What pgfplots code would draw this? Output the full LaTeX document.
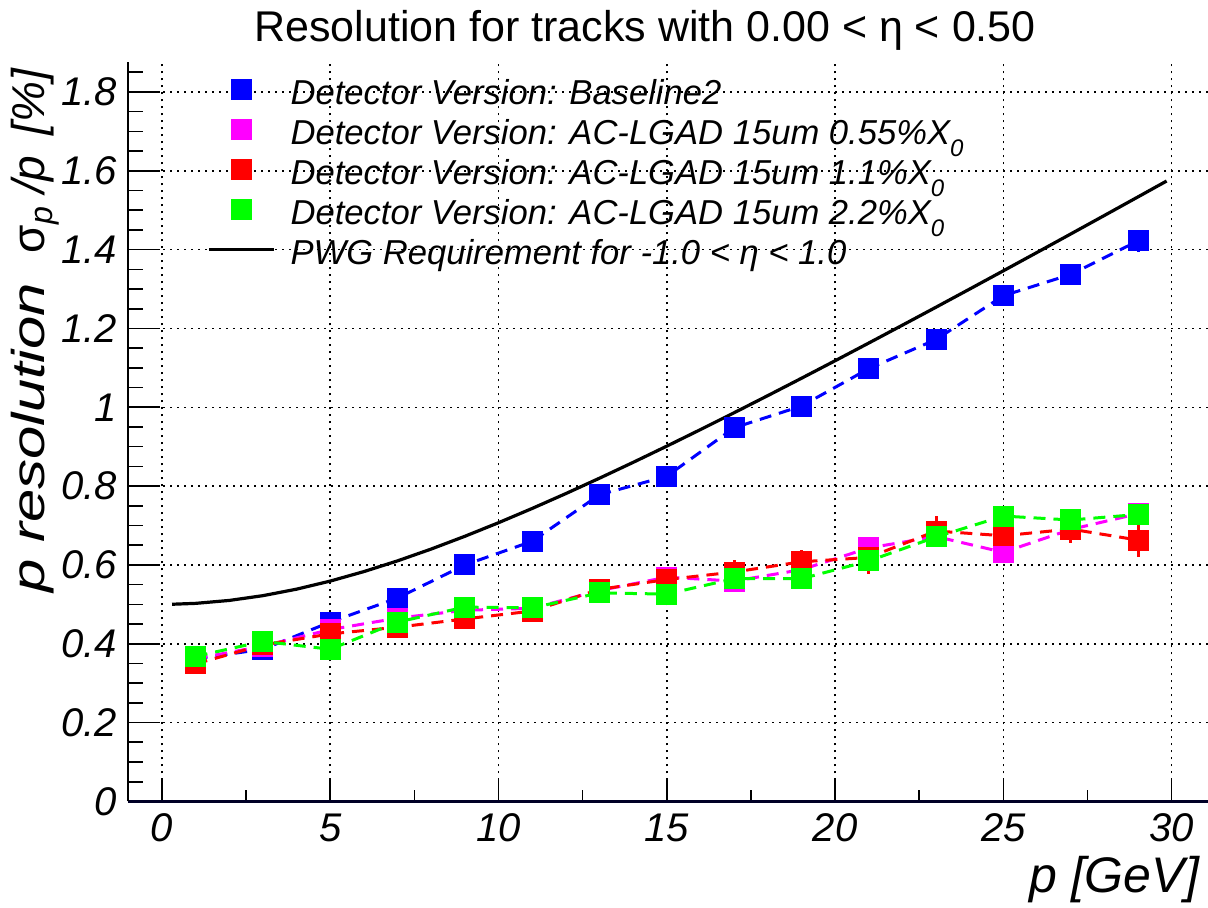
\documentclass[border=0pt]{standalone}
\usepackage{fontspec}
\setmainfont{Liberation Sans}
\usepackage{pgfplots}
\pgfplotsset{compat=1.18}

\definecolor{rblue}{RGB}{0,0,255}
\definecolor{rmag}{RGB}{255,0,255}
\definecolor{rred}{RGB}{255,0,0}
\definecolor{rgreen}{RGB}{0,255,0}

\newcommand{\xo}{X\raisebox{-6pt}{\fontsize{12}{12}\selectfont 0}}

\pgfplotsset{
  lineleg/.style={legend image code/.code={\draw[##1] (0pt,0.35em) -- (32.5pt,0.35em);}},
  sqleg/.style={legend image code/.code={\draw[##1, solid, only marks] plot coordinates {(16.25pt,0.35em)};}},
  rootser/.style={#1, line width=1.5pt, dash pattern=on 6pt off 4pt, mark=square*, mark size=4.5pt,
    mark options={solid, draw=#1, fill=#1}, sqleg,
    error bars/.cd, y dir=both, y explicit, error mark=none},
}

\begin{document}
\begin{tikzpicture}
\begin{axis}[
  scale only axis,
  width=539.85pt, height=369.7pt,
  xmin=-1, xmax=31.08, ymin=0, ymax=1.876,
  axis x line*=bottom, axis y line*=left,
  x axis line style={line width=1.3pt, color=black!85!blue},
  y axis line style={line width=1pt},
  xtick={0,5,10,15,20,25,30},
  minor xtick={2.5,7.5,12.5,17.5,22.5,27.5},
  ytick={0,0.2,0.4,0.6,0.8,1,1.2,1.4,1.6,1.8},
  minor ytick={0.05,0.1,0.15,0.25,0.3,0.35,0.45,0.5,0.55,0.65,0.7,0.75,0.85,0.9,0.95,1.05,1.1,1.15,1.25,1.3,1.35,1.45,1.5,1.55,1.65,1.7,1.75,1.85},
  tick align=inside,
  major tick length=11pt, minor tick length=5.5pt,
  y tick style={/pgfplots/major tick length=16pt, /pgfplots/minor tick length=7.5pt},
  tick style={line width=0.8pt, black},
  grid=major,
  major grid style={black, line width=0.75pt, dash pattern=on 1pt off 2.5pt},
  /pgf/number format/assume math mode=true,
  ticklabel style={font=\fontsize{20}{20}\selectfont\itshape, inner sep=0pt},
  xticklabel style={yshift=-6pt},
  yticklabel style={xshift=-5.5pt},
  title={Resolution for tracks with 0.00 < η < 0.50},
  title style={font=\fontsize{21.5}{21.5}\selectfont, at={(axis description cs:0.4786,1)}, anchor=center, yshift=10pt},
  xlabel={p [GeV]},
  xlabel style={font=\fontsize{25}{25}\selectfont\itshape, at={(axis description cs:1,0)}, anchor=east, xshift=-1pt, yshift=-39pt},
  ylabel={\scalebox{1.3}[1]{p resolution}\hspace{15pt}{\upshape σ}\textsubscript{p}\hspace{6pt}/p\hspace{10pt}[\%]},
  ylabel style={font=\fontsize{23}{23}\selectfont\itshape, at={(axis description cs:-0.077,1)}, anchor=east, yshift=5pt},
  legend style={at={(axis description cs:0.0729,1)}, anchor=north west, yshift=-8.5pt,
    draw=none, fill=none, inner sep=0pt, row sep=3pt,
    font=\fontsize{17.3}{17.3}\selectfont\itshape,
    nodes={inner sep=0pt, text height=12.5pt, text depth=4.5pt},
    /tikz/every odd column/.append style={column sep=7.5pt}},
  legend cell align=left,
  error bars/error bar style={line width=1.5pt, solid},
]

\addplot[rootser=rblue]
coordinates {
  (1,0.362) +- (0,0.004) (3,0.386) +- (0,0.005) (5,0.455) +- (0,0.006)
  (7,0.516) +- (0,0.007) (9,0.600) +- (0,0.008) (11,0.660) +- (0,0.009)
  (13,0.778) +- (0,0.011) (15,0.825) +- (0,0.012) (17,0.948) +- (0,0.014)
  (19,1.003) +- (0,0.016) (21,1.098) +- (0,0.018) (23,1.172) +- (0,0.020)
  (25,1.283) +- (0,0.022) (27,1.337) +- (0,0.025) (29,1.422) +- (0,0.028)
};
\addlegendentry{Detector Version: Baseline2}

\addplot[rootser=rmag]
coordinates {
  (1,0.362) +- (0,0.006) (3,0.394) +- (0,0.007) (5,0.436) +- (0,0.008)
  (7,0.465) +- (0,0.009) (9,0.485) +- (0,0.010) (11,0.490) +- (0,0.011)
  (13,0.535) +- (0,0.012) (15,0.569) +- (0,0.014) (17,0.559) +- (0,0.015)
  (19,0.588) +- (0,0.017) (21,0.643) +- (0,0.019) (23,0.672) +- (0,0.020)
  (25,0.632) +- (0,0.022) (27,0.690) +- (0,0.024) (29,0.730) +- (0,0.026)
};
\addlegendentry{Detector Version: AC-LGAD 15um 0.55\%\xo}

\addplot[rootser=rred]
coordinates {
  (1,0.349) +- (0,0.008) (3,0.397) +- (0,0.009) (5,0.425) +- (0,0.010)
  (7,0.442) +- (0,0.011) (9,0.463) +- (0,0.012) (11,0.483) +- (0,0.014)
  (13,0.538) +- (0,0.016) (15,0.563) +- (0,0.020) (17,0.582) +- (0,0.031)
  (19,0.608) +- (0,0.029) (21,0.619) +- (0,0.042) (23,0.686) +- (0,0.039)
  (25,0.674) +- (0,0.032) (27,0.691) +- (0,0.036) (29,0.663) +- (0,0.043)
};
\addlegendentry{Detector Version: AC-LGAD 15um 1.1\%\xo}

\addplot[rootser=rgreen]
coordinates {
  (1,0.368) +- (0,0.005) (3,0.406) +- (0,0.006) (5,0.386) +- (0,0.007)
  (7,0.455) +- (0,0.008) (9,0.493) +- (0,0.009) (11,0.491) +- (0,0.010)
  (13,0.529) +- (0,0.011) (15,0.526) +- (0,0.012) (17,0.565) +- (0,0.013)
  (19,0.565) +- (0,0.014) (21,0.610) +- (0,0.016) (23,0.671) +- (0,0.017)
  (25,0.724) +- (0,0.018) (27,0.714) +- (0,0.019) (29,0.728) +- (0,0.020)
};
\addlegendentry{Detector Version: AC-LGAD 15um 2.2\%\xo}

\addplot[black, line width=1.6pt, mark=none, lineleg]
coordinates {
  (0.3,0.50022) (1,0.50249) (2,0.50990) (3,0.52202) (4,0.53852) (5,0.55902)
  (6,0.58310) (7,0.61033) (8,0.64031) (9,0.67268) (10,0.70711) (11,0.74330)
  (12,0.78102) (13,0.82006) (14,0.86023) (15,0.90139) (16,0.94340) (17,0.98615)
  (18,1.02956) (19,1.07355) (20,1.11803) (21,1.16297) (22,1.20830) (23,1.25399)
  (24,1.30000) (25,1.34629) (26,1.39284) (27,1.43962) (28,1.48661) (29,1.53379)
  (29.85,1.57403)
};
\addlegendentry{PWG Requirement for -1.0 < η < 1.0}

\end{axis}
\pgfresetboundingbox
\useasboundingbox (-64.15pt,-52.8pt) rectangle (539.85pt,400.7pt);
\end{tikzpicture}
\end{document}
